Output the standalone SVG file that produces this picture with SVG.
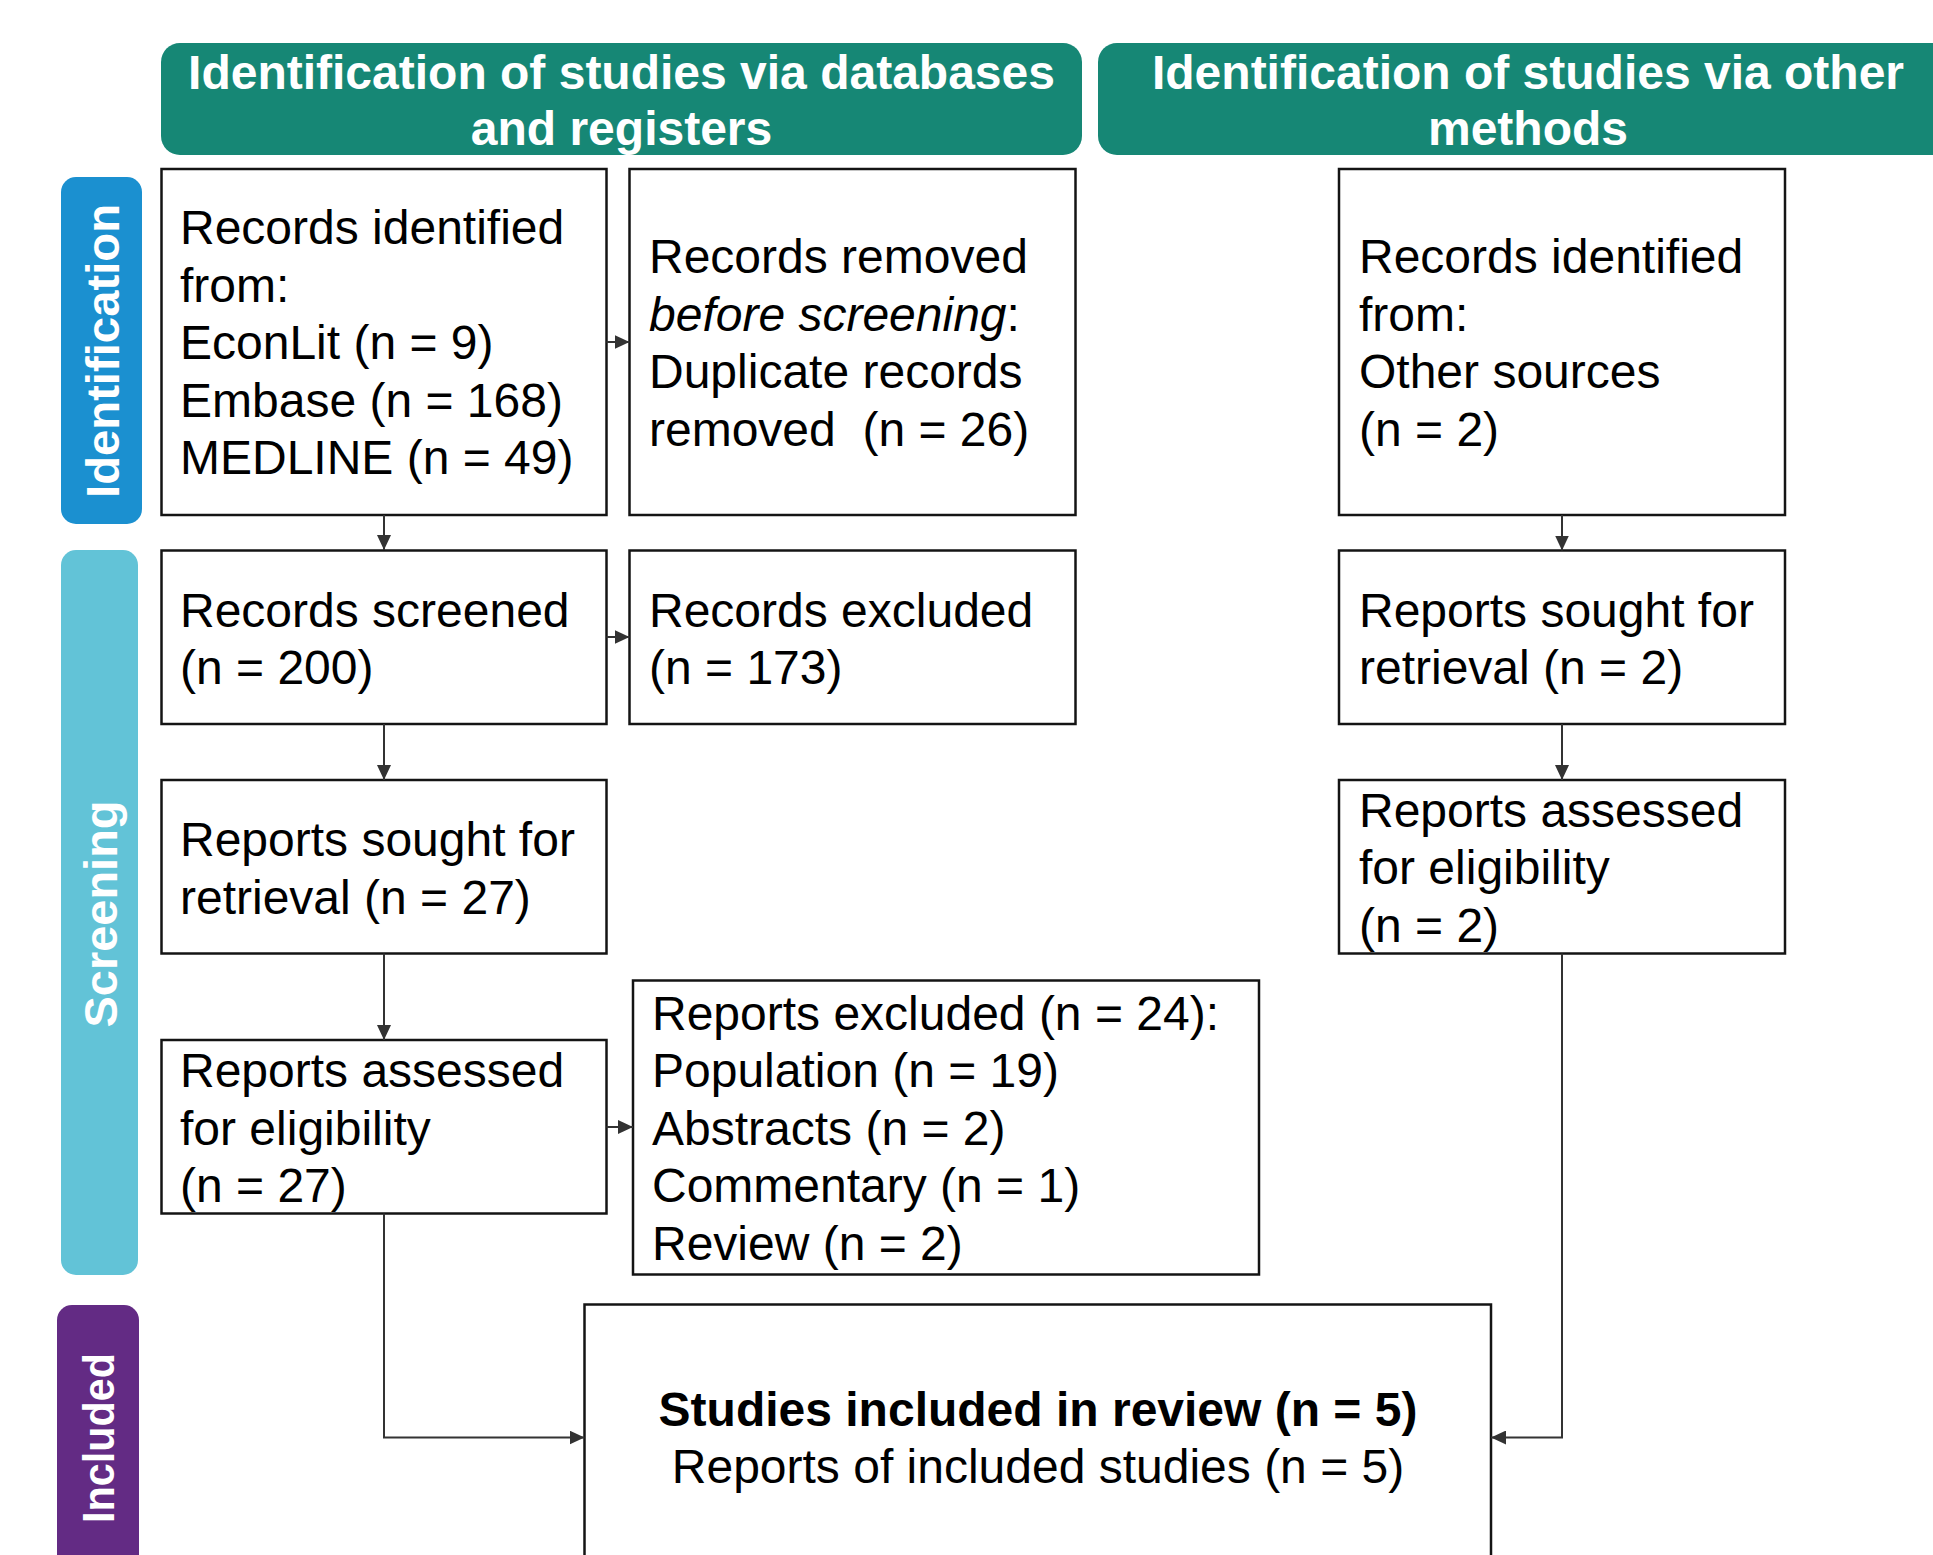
<svg xmlns="http://www.w3.org/2000/svg" width="1933" height="1555" viewBox="0 0 1933 1555">
<style>
.hdr{fill:#168775}
.hdrt{font-family:"Liberation Sans",Arial,sans-serif;font-weight:bold;font-size:48px;fill:#ffffff;text-anchor:middle}
.side{font-family:"Liberation Sans",Arial,sans-serif;font-weight:bold;fill:#ffffff;text-anchor:middle}
.box{fill:#ffffff;stroke:#141414;stroke-width:2.5}
.t{font-family:"Liberation Sans",Arial,sans-serif;font-size:48px;fill:#000000}
.tc{font-family:"Liberation Sans",Arial,sans-serif;font-size:48px;fill:#000000;text-anchor:middle}
.conn{fill:none;stroke:#333333;stroke-width:2}
</style>
<defs>
<marker id="arr" viewBox="0 0 15 14" refX="15" refY="7" markerWidth="15" markerHeight="14" orient="auto" markerUnits="userSpaceOnUse">
<path d="M0,0 L15,7 L0,14 z" fill="#333333"/>
</marker>
</defs>
<rect width="1933" height="1555" fill="#ffffff"/>

<g id="header-databases">
<rect class="hdr" x="161" y="43" width="921" height="112" rx="19"/>
<text class="hdrt" x="621.5" y="89">Identification of studies via databases</text>
<text class="hdrt" x="621.5" y="145">and registers</text>
</g>
<g id="header-other">
<rect class="hdr" x="1098" y="43" width="880" height="112" rx="19"/>
<text class="hdrt" x="1528" y="89">Identification of studies via other</text>
<text class="hdrt" x="1528" y="145">methods</text>
</g>

<g id="stage-identification">
<rect x="61" y="177" width="81" height="347" rx="15" fill="#1b90d0"/>
<text class="side" transform="translate(119,351) rotate(-90)" font-size="47" textLength="294" lengthAdjust="spacingAndGlyphs">Identification</text>
</g>
<g id="stage-screening">
<rect x="61" y="550" width="77" height="725" rx="15" fill="#62c3d7"/>
<text class="side" transform="translate(117,914) rotate(-90)" font-size="47" textLength="227" lengthAdjust="spacingAndGlyphs">Screening</text>
</g>
<g id="stage-included">
<rect x="57" y="1305" width="82" height="300" rx="15" fill="#632b84"/>
<text class="side" transform="translate(114,1438) rotate(-90)" font-size="44" textLength="170" lengthAdjust="spacingAndGlyphs">Included</text>
</g>

<g id="records-identified-db">
<rect class="box" x="161.5" y="169" width="445" height="346"/>
<text class="t" x="180" y="244">Records identified</text>
<text class="t" x="180" y="301.6">from:</text>
<text class="t" x="180" y="359.2">EconLit (n = 9)</text>
<text class="t" x="180" y="416.8">Embase (n = 168)</text>
<text class="t" x="180" y="474.4">MEDLINE (n = 49)</text>
</g>
<g id="records-removed">
<rect class="box" x="629.5" y="169" width="446" height="346"/>
<text class="t" x="649" y="273">Records removed</text>
<text class="t" x="649" y="330.6"><tspan font-style="italic">before screening</tspan>:</text>
<text class="t" x="649" y="388.2">Duplicate records</text>
<text class="t" x="649" y="445.8" xml:space="preserve">removed  (n = 26)</text>
</g>
<g id="records-identified-other">
<rect class="box" x="1339" y="169" width="446" height="346"/>
<text class="t" x="1359" y="273">Records identified</text>
<text class="t" x="1359" y="330.6">from:</text>
<text class="t" x="1359" y="388.2">Other sources</text>
<text class="t" x="1359" y="445.8">(n = 2)</text>
</g>

<g id="records-screened">
<rect class="box" x="161.5" y="550.5" width="445" height="173.5"/>
<text class="t" x="180" y="626.5">Records screened</text>
<text class="t" x="180" y="684">(n = 200)</text>
</g>
<g id="records-excluded">
<rect class="box" x="629.5" y="550.5" width="446" height="173.5"/>
<text class="t" x="649" y="626.5">Records excluded</text>
<text class="t" x="649" y="684">(n = 173)</text>
</g>
<g id="reports-sought-other">
<rect class="box" x="1339" y="550.5" width="446" height="173.5"/>
<text class="t" x="1359" y="626.5">Reports sought for</text>
<text class="t" x="1359" y="684">retrieval (n = 2)</text>
</g>

<g id="reports-sought-db">
<rect class="box" x="161.5" y="780" width="445" height="173.5"/>
<text class="t" x="180" y="856">Reports sought for</text>
<text class="t" x="180" y="913.5">retrieval (n = 27)</text>
</g>
<g id="reports-assessed-other">
<rect class="box" x="1339" y="780" width="446" height="173.5"/>
<text class="t" x="1359" y="826.5">Reports assessed</text>
<text class="t" x="1359" y="884">for eligibility</text>
<text class="t" x="1359" y="941.5">(n = 2)</text>
</g>

<g id="reports-assessed-db">
<rect class="box" x="161.5" y="1040" width="445" height="173.5"/>
<text class="t" x="180" y="1087">Reports assessed</text>
<text class="t" x="180" y="1144.5">for eligibility</text>
<text class="t" x="180" y="1202">(n = 27)</text>
</g>
<g id="reports-excluded">
<rect class="box" x="633" y="980.5" width="626" height="294"/>
<text class="t" x="652" y="1029.5">Reports excluded (n = 24):</text>
<text class="t" x="652" y="1087">Population (n = 19)</text>
<text class="t" x="652" y="1144.6">Abstracts (n = 2)</text>
<text class="t" x="652" y="1202.2">Commentary (n = 1)</text>
<text class="t" x="652" y="1259.8">Review (n = 2)</text>
</g>

<g id="studies-included">
<rect class="box" x="584.5" y="1304.5" width="906.5" height="320"/>
<text class="tc" x="1038" y="1426" font-weight="bold">Studies included in review (n = 5)</text>
<text class="tc" x="1038" y="1483">Reports of included studies (n = 5)</text>
</g>

<g id="connectors">
<path class="conn" d="M384,515 L384,550" marker-end="url(#arr)"/>
<path class="conn" d="M384,724 L384,780" marker-end="url(#arr)"/>
<path class="conn" d="M384,953.5 L384,1040" marker-end="url(#arr)"/>
<path class="conn" d="M384,1213.5 L384,1437.5 L584.5,1437.5" marker-end="url(#arr)"/>
<path class="conn" d="M606.5,342 L629.5,342" marker-end="url(#arr)"/>
<path class="conn" d="M606.5,637 L629.5,637" marker-end="url(#arr)"/>
<path class="conn" d="M606.5,1127 L633,1127" marker-end="url(#arr)"/>
<path class="conn" d="M1562,515 L1562,550.5" marker-end="url(#arr)"/>
<path class="conn" d="M1562,724 L1562,780" marker-end="url(#arr)"/>
<path class="conn" d="M1562,953.5 L1562,1437.5 L1491,1437.5" marker-end="url(#arr)"/>
</g>
</svg>
